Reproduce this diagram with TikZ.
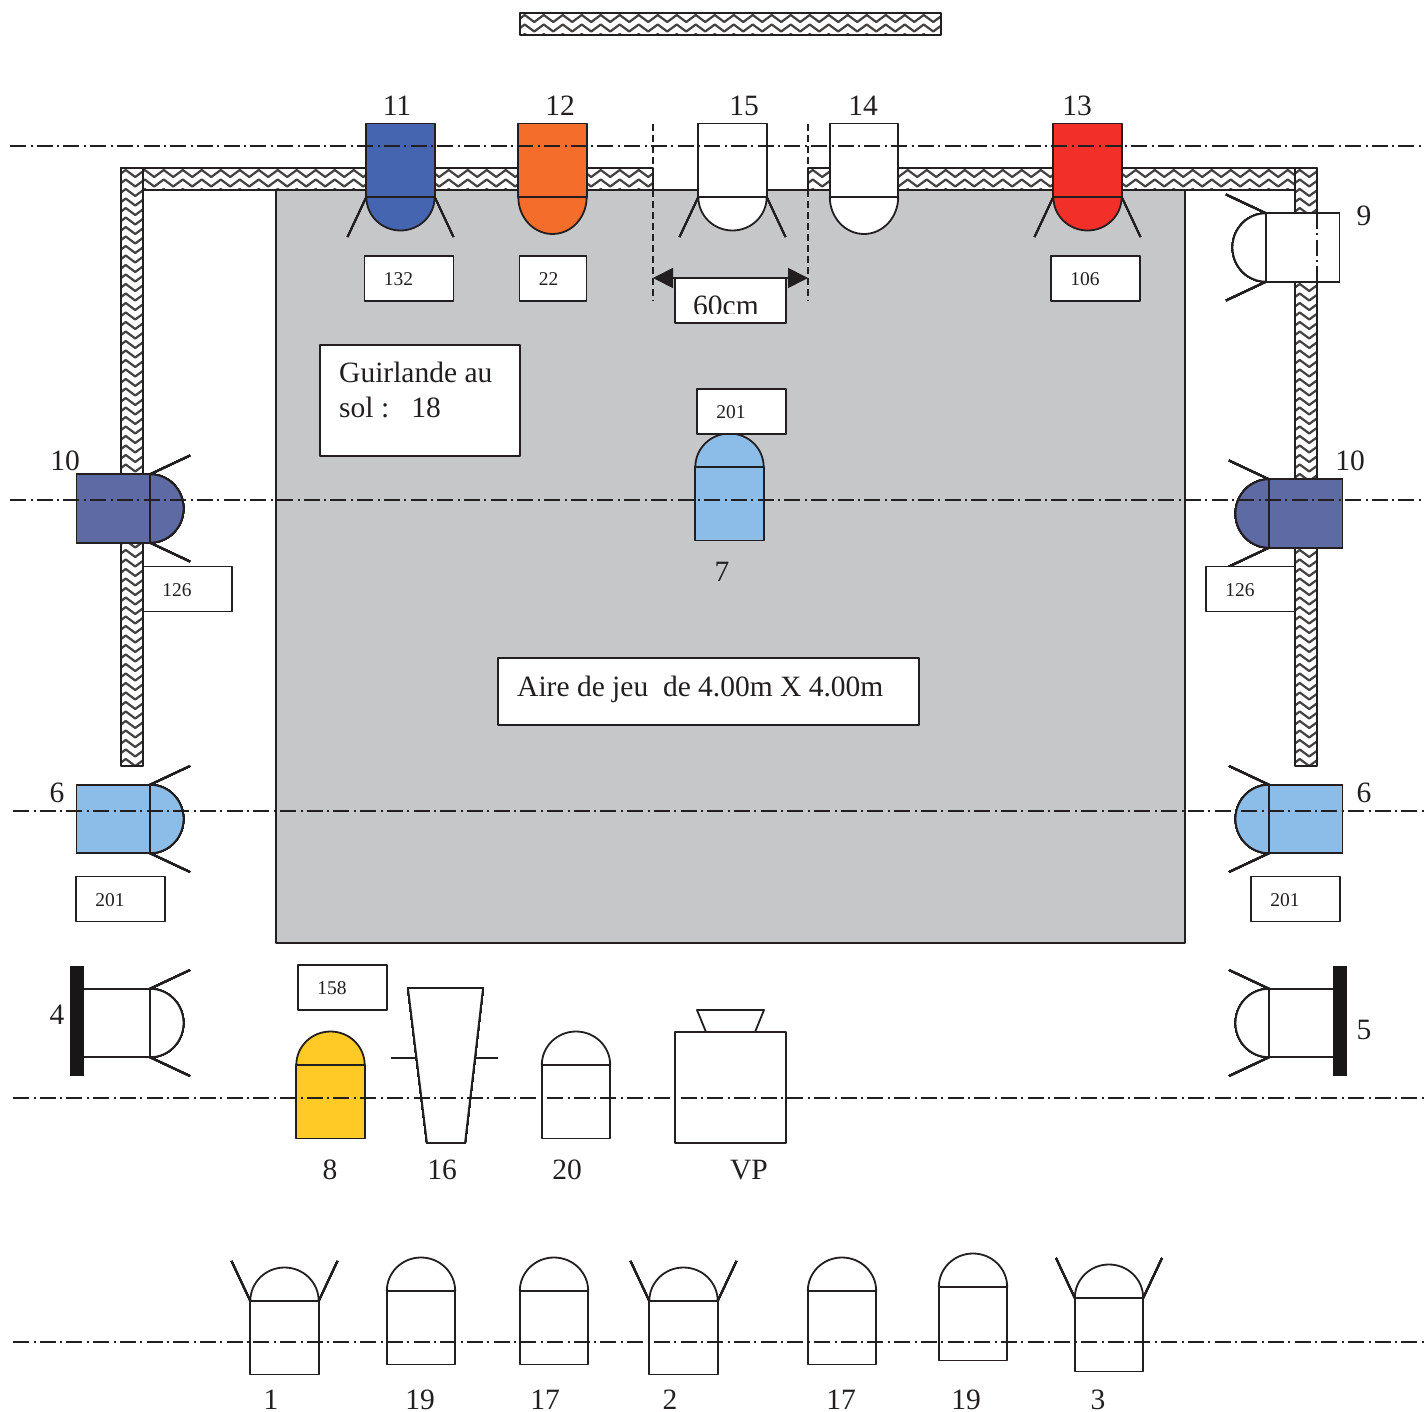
\documentclass[tikz,border=0pt]{standalone}
\usepackage{fontspec}
\setmainfont{Liberation Serif}
\usetikzlibrary{arrows.meta,decorations.pathmorphing}
\definecolor{ink}{HTML}{231F20}
\definecolor{sol}{HTML}{C6C7C9}
\definecolor{gelblue}{HTML}{4565B0}
\definecolor{gelorange}{HTML}{F46D2B}
\definecolor{gelred}{HTML}{F32F2A}
\definecolor{gelslate}{HTML}{5E6AA3}
\definecolor{gelsky}{HTML}{8CBDE8}
\definecolor{gelyellow}{HTML}{FFC926}
\tikzset{
  trait/.style={draw=ink, line width=1.8pt, line join=round},
  axe/.style={draw=ink, line width=1.4pt, dash pattern=on 16pt off 4.5pt on 2pt off 4.2pt},
  repere/.style={draw=ink, line width=1.3pt, dash pattern=on 7pt off 4pt},
  cote/.style={draw=ink, line width=1.8pt, {Triangle[length=20pt,width=20pt]}-{Triangle[length=20pt,width=20pt]}},
  vague/.style={draw=ink!85, line width=2.2pt, line join=round, decorate, decoration={zigzag,segment length=19pt,amplitude=3.5pt}},
  tagbox/.style={trait, fill=white, minimum height=45pt, inner sep=0pt},
  notebox/.style={trait, fill=white, inner sep=0pt},
  num/.style={text=ink, font=\fontsize{29.5}{32}\selectfont, inner sep=0pt},
  petit/.style={text=ink, font=\fontsize{19.5}{22}\selectfont, inner sep=0pt},
  barre/.style={fill=ink!70!black}
}
% mur : x1 y1 x2 y2
\newcommand{\mur}[4]{
  \fill[white] (#1,#2) rectangle (#3,#4);
  \begin{scope}
    \clip (#1,#2) rectangle (#3,#4);
    \pgfmathtruncatemacro{\nbrangs}{(#4-#2)/9.5}
    \foreach \r in {0,...,\nbrangs}
      \draw[vague] ({#1-19},{#2+5.5+9.5*\r}) -- ({#3+38},{#2+5.5+9.5*\r});
  \end{scope}
  \draw[trait] (#1,#2) rectangle (#3,#4);
}
% projecteur : x y rotation couleur profondeur du dome
\newcommand{\lampe}[5]{
  \begin{scope}[shift={(#1,#2)},rotate=#3]
    \draw[trait, fill=#4] (-34.2,-73.5) rectangle (34.2,0);
    \draw[trait, fill=#4] (-34.2,0) .. controls (-34.2,{0.55*#5}) and (-19,#5) .. (0,#5)
      .. controls (19,#5) and (34.2,{0.55*#5}) .. (34.2,0) -- cycle;
  \end{scope}
}
% volets du projecteur
\newcommand{\volets}[3]{
  \begin{scope}[shift={(#1,#2)},rotate=#3]
    \draw[trait] (-34.2,0) -- (-53,40);
    \draw[trait] (34.2,0) -- (53,40);
  \end{scope}
}
\begin{document}
\begin{tikzpicture}[x=1pt, y=-1pt]
  \useasboundingbox (0,0) rectangle (1425,1412);
  \fill[white] (0,0) rectangle (1425,1412);
  % murs
  \mur{520}{13}{941}{35}
  \mur{121}{168}{653}{190}
  \mur{808}{168}{1317}{190}
  \mur{121}{168}{143}{766}
  \mur{1295}{168}{1317}{766}
  % aire de jeu
  \draw[trait, fill=sol] (276,190) rectangle (1185,943);
  \draw[trait] (653,190) -- (808,190);
  % projecteurs du haut
  \foreach \x/\d/\c in {400.5/33.5/gelblue, 552.5/37/gelorange, 732.5/33.5/white, 864/37/white, 1087.5/33.5/gelred}
    \lampe{\x}{197}{0}{\c}{\d}
  \foreach \x in {400.5,732.5,1087.5}
    \volets{\x}{197}{0}
  % projecteurs des cotes
  \foreach \x/\y/\a/\c in {150/508.5/90/gelslate, 150/819/90/gelsky, 150/1023/90/white,
      1266/247.5/-90/white, 1269/513.5/-90/gelslate, 1269/819/-90/gelsky, 1269/1023/-90/white} {
    \lampe{\x}{\y}{\a}{\c}{33.5}
    \volets{\x}{\y}{\a}
  }
  \fill[barre] (69.5,966) rectangle (84,1076);
  \fill[barre] (1333,966) rectangle (1347,1076);
  % projecteurs vers le haut
  \foreach \x/\y/\c in {729.5/467/gelsky, 330.5/1065/gelyellow, 576/1065/white, 284.5/1301/white,
      421/1291/white, 554/1291/white, 683.5/1301/white, 842/1291/white, 973/1287/white, 1109/1298/white}
    \lampe{\x}{\y}{180}{\c}{33.5}
  \foreach \x/\y in {284.5/1301, 683.5/1301, 1109/1298}
    \volets{\x}{\y}{180}
  % 16 et VP
  \draw[trait, fill=white] (408,988) -- (483,988) -- (465,1143) -- (427,1143) -- cycle;
  \draw[trait] (391,1058) -- (417,1058);
  \draw[trait] (475,1058) -- (498,1058);
  \draw[trait, fill=white] (675,1032) rectangle (786,1143);
  \draw[trait, fill=white] (697,1010) -- (764,1010) -- (755,1032) -- (706,1032) -- cycle;
  % les 60cm
  \coordinate (repG) at (653,124);
  \coordinate (repGb) at (653,301);
  \coordinate (repD) at (808,124);
  \coordinate (repDb) at (808,301);
  \draw[repere] (repG) -- (repGb);
  \draw[repere] (repD) -- (repDb);
  \coordinate (coteG) at (653,278);
  \coordinate (coteD) at (808,278);
  \node[tagbox, minimum width=111pt] (box60) at (730.5,300.5) {};
  \node[num] (txt60) at (726,306) {60cm};
  \fill[white] (676,314.5) rectangle (785,322);
  \draw[cote] (coteG) -- (coteD);
  % etiquettes
  \foreach \nm/\x/\y/\w/\txt in {a/409/278.5/89/132, b/553/278.5/67/22, c/1095.5/278.5/89/106, d/741.5/411.5/89/201,
      e/187.5/589/89/126, f/1250.5/589/89/126, g/120.5/899/89/201, h/1295.5/899/89/201, i/342.5/987.5/89/158} {
    \node[tagbox, minimum width=\w pt] (tag\nm) at (\x,\y) {};
    \node[petit, anchor=west, xshift=20pt, yshift=-1pt] (val\nm) at (tag\nm.west) {\txt};
  }
  \node[notebox, minimum width=200pt, minimum height=111pt] (guirlande) at (420,400.5) {};
  \node[num, anchor=north west, align=left] (txtguirlande) at (339,362) {Guirlande au\\[3pt]sol :\ \ \ 18};
  \node[notebox, minimum width=421pt, minimum height=67pt] (aire) at (708.5,691.5) {};
  \node[num, anchor=west] (txtaire) at (517,689) {Aire de jeu\ \ de 4.00m X 4.00m};
  % numeros
  \foreach \nm/\x/\y/\txt in {n11/397/106/11, n12/560/106/12, n15/744/106/15, n14/863/106/14, n13/1077/106/13,
      n9/1364/216/9, n10g/65/461/10, n10d/1350/461/10, n6g/57/793/6, n6d/1364/793/6, n4/57/1015/4, n5/1364/1030/5,
      n7/722/572/7, n8/330/1170/8, n16/442/1170/16, n20/567/1170/20, nvp/749/1170/VP,
      n1/271/1400/1, n19a/420/1400/19, n17a/545/1400/17, n2/670/1400/2, n17b/841/1400/17, n19b/966/1400/19, n3/1098/1400/3}
    \node[num] (\nm) at (\x,\y) {\txt};
  % axes
  \foreach \x/\y in {10/146, 10/500, 13/811, 13/1098, 13/1342}
    \draw[axe] (\x,\y) -- (1425,\y);
  \draw[axe] (1317,213) -- (1317,282);
\end{tikzpicture}
\end{document}
